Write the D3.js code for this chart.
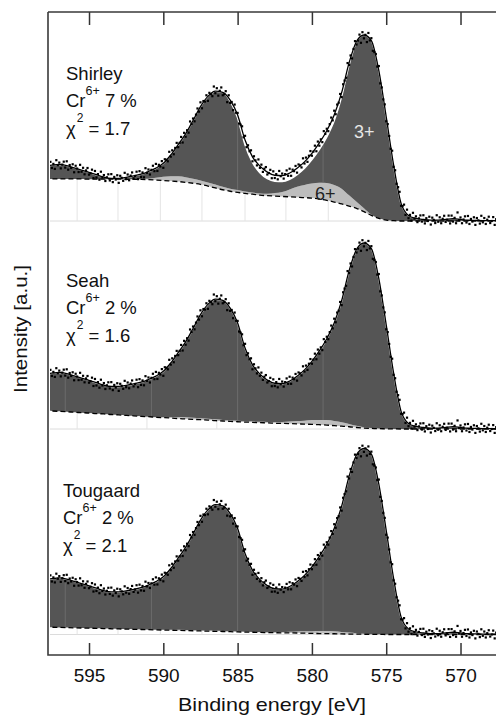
<!DOCTYPE html>
<html>
<head>
<meta charset="utf-8">
<script src="https://cdn.jsdelivr.net/npm/d3@7"></script>
<style>
  body { margin: 0; background: #fff; }
  svg { display: block; font-family: "Liberation Sans", Arial, Helvetica, sans-serif; }
</style>
</head>
<body>
<div id="chart"></div>
<script>
// Cr 2p spectrum fitted with three background models (Shirley / Seah / Tougaard)
const methods = ['Shirley', 'Seah', 'Tougaard'];
const cr6Percent = [7, 2, 2];
const chiSquared = [1.7, 1.6, 2.1];
const energyTicks = [595, 590, 585, 580, 575, 570];

// fitted curves, sampled every 0.5 eV
const fitEnergy = [598.0,597.5,597.0,596.5,596.0,595.5,595.0,594.5,594.0,
  593.5,593.0,592.5,592.0,591.5,591.0,590.5,590.0,589.5,
  589.0,588.5,588.0,587.5,587.0,586.5,586.0,585.5,585.0,
  584.5,584.0,583.5,583.0,582.5,582.0,581.5,581.0,580.5,
  580.0,579.5,579.0,578.5,578.0,577.5,577.0,576.5,576.0,
  575.5,575.0,574.5,574.0,573.5,573.0,572.5,572.0,571.5,
  571.0,570.5,570.0,569.5,569.0,568.5,568.0,567.5];

const envelope = [29.4,30.0,30.4,29.8,28.6,27.4,26.2,24.9,23.6,
  22.9,22.9,23.4,24.2,25.2,26.6,28.4,31.0,35.5,
  41.0,46.8,54.0,61.5,67.0,69.8,69.2,65.0,57.0,
  43.5,34.5,29.5,26.3,24.6,24.4,25.8,28.4,31.8,
  36.4,42.0,48.5,57.0,69.0,85.0,96.5,100.0,97.0,
  81.0,56.0,30.0,9.5,3.0,1.4,0.8,0.5,0.5,
  0.8,1.2,0.8,0.4,0.3,0.2,0.2,0.1];

const shirleySum = [29.4,30.0,30.4,29.8,28.6,27.4,26.2,24.9,23.6,
  22.9,22.9,23.4,24.2,25.2,26.6,28.4,31.0,35.5,
  41.0,46.8,54.0,61.5,67.0,69.8,69.2,64.5,55.5,
  41.0,31.5,26.0,22.8,21.4,21.2,22.4,25.0,28.4,
  33.0,38.5,45.2,54.0,67.0,84.0,96.5,100.0,97.0,
  81.0,56.0,30.0,9.5,3.0,1.4,0.8,0.5,0.5,
  0.8,1.2,0.8,0.4,0.3,0.2,0.2,0.1];

const shirleyBg = [22.6,22.6,22.6,22.6,22.6,22.6,22.5,22.5,22.5,
  22.5,22.5,22.4,22.4,22.4,22.2,22.0,21.8,21.5,
  21.2,20.8,20.3,19.7,18.8,17.8,16.8,16.0,15.4,
  14.8,14.4,13.9,13.6,13.4,13.2,13.0,12.8,12.6,
  12.3,11.8,11.1,10.2,9.2,8.0,6.8,5.0,3.0,
  1.4,0.5,0.15,0,0,0,0,0,0,
  0,0,0,0,0,0,0,0];

const shirleyCr6 = [0,0,0,0,0,0,0,0,0,
  0,0,0,0,0.2,0.5,1.2,2.0,2.6,
  2.8,2.7,2.4,2.1,1.9,1.8,1.6,1.4,1.2,
  1.0,0.9,0.9,1.0,1.6,2.4,4.0,5.6,6.8,
  7.8,8.8,9.3,9.2,8.2,5.8,3.6,1.9,0.5,
  0.1,0,0,0,0,0,0,0,0,
  0,0,0,0,0,0,0,0];

const seahBg = [9.9,9.7,9.5,9.3,9.0,8.8,8.6,8.3,8.1,
  7.8,7.6,7.3,7.1,6.8,6.6,6.3,6.1,5.9,
  5.6,5.4,5.2,5.0,4.8,4.5,4.3,4.1,3.9,
  3.7,3.6,3.4,3.3,3.1,3.0,2.9,2.8,2.6,
  2.5,2.3,2.1,1.8,1.5,1.2,0.8,0.5,0.3,
  0.2,0.1,0.05,0,0,0,0,0,0,
  0,0,0,0,0,0,0,0];

const seahCr6 = [0,0,0,0,0,0,0,0,0,
  0,0,0,0,0,0,0,0.3,0.6,
  0.8,0.9,0.9,0.8,0.7,0.7,0.6,0.6,0.5,
  0.5,0.5,0.5,0.5,0.6,0.8,1.1,1.5,1.9,
  2.3,2.6,2.7,2.5,2.1,1.5,0.9,0.5,0.2,
  0.1,0,0,0,0,0,0,0,0,
  0,0,0,0,0,0,0,0];

const tougaardBg = [4.0,3.9,3.8,3.7,3.6,3.5,3.4,3.3,3.2,
  3.1,3.0,2.9,2.8,2.7,2.6,2.5,2.4,2.3,
  2.2,2.1,2.0,1.9,1.8,1.7,1.6,1.5,1.4,
  1.3,1.2,1.1,1.0,0.95,0.9,0.85,0.8,0.7,
  0.6,0.5,0.45,0.4,0.3,0.25,0.2,0.15,0.1,
  0.05,0,0,0,0,0,0,0,0,
  0,0,0,0,0,0,0,0];

const tougaardCr6 = [0,0,0,0,0,0,0,0,0,
  0,0,0,0,0,0,0,0.1,0.2,
  0.3,0.3,0.3,0.3,0.3,0.3,0.3,0.2,0.2,
  0.2,0.2,0.2,0.2,0.3,0.4,0.6,0.8,1.0,
  1.2,1.4,1.4,1.3,1.1,0.8,0.5,0.3,0.1,
  0.05,0,0,0,0,0,0,0,0,
  0,0,0,0,0,0,0,0];

// measured intensity, 597.6 eV down to 567.6 eV in 0.1 eV steps
const measuredStart = 597.6, measuredStep = 0.1;
const measured = [
  31.8,28.5,30.7,28.0,32.7,30.0,31.4,28.3,30.3,31.9,
  28.7,32.1,27.6,30.1,28.5,30.5,26.2,29.7,28.2,26.3,
  30.2,26.5,28.6,25.1,27.2,28.5,24.9,25.7,27.6,23.1,
  26.9,23.4,25.2,22.2,26.5,23.4,24.7,21.5,23.5,25.1,
  21.8,25.2,20.9,23.7,22.3,24.6,20.5,24.3,23.2,21.6,
  25.9,22.5,25.0,21.9,24.4,26.1,22.9,24.2,26.5,22.5,
  26.8,23.7,26.1,23.5,28.4,25.9,27.7,25.0,27.5,29.7,
  26.8,30.7,26.9,30.2,29.3,32.2,28.6,33.2,32.9,32.1,
  37.2,34.6,38.0,35.9,39.3,42.0,39.7,42.0,45.2,42.2,
  47.4,45.3,48.8,47.5,53.5,52.2,55.1,53.6,57.2,60.5,
  58.8,63.8,60.6,64.5,64.2,67.6,64.6,68.9,68.2,67.1,
  72.3,68.7,71.4,67.4,70.0,71.8,67.6,68.2,69.8,63.9,
  67.6,63.5,64.0,59.6,62.6,58.2,58.1,52.4,51.8,50.9,
  45.0,45.8,39.7,40.7,37.5,38.0,32.1,34.8,32.6,29.9,
  33.1,28.6,30.3,26.4,28.1,29.0,25.0,25.8,27.5,23.0,
  26.7,23.1,25.2,22.4,26.9,24.1,25.5,22.8,25.2,27.2,
  24.3,28.1,24.3,27.6,26.8,29.6,26.0,30.4,29.9,28.8,
  33.7,30.9,34.1,31.8,35.1,37.6,35.1,37.3,40.5,37.5,
  42.7,40.5,43.9,42.4,48.3,46.8,49.6,48.3,52.1,55.6,
  54.1,59.3,57.4,62.6,63.6,68.3,66.6,73.5,75.5,77.0,
  84.9,83.9,89.0,87.4,92.5,96.7,94.9,97.0,100.2,95.8,
  101.5,98.2,100.1,96.2,101.1,97.1,98.3,91.5,90.8,89.8,
  83.0,83.3,74.0,71.8,65.4,62.7,53.6,52.1,45.7,38.8,
  37.8,29.1,27.3,20.0,18.2,15.7,8.2,8.0,8.8,3.3,
  6.1,1.5,3.3,0.2,4.4,1.3,2.5,-0.6,1.4,3.0,
  -0.3,3.1,-1.3,1.5,0.0,2.3,-1.9,1.8,0.6,-1.1,
  3.1,-0.4,2.0,-1.2,1.2,2.8,-0.5,0.7,2.9,-1.3,
  2.9,-0.3,1.7,-1.2,4.6,0.5,1.9,-1.2,0.8,2.5,
  -0.8,2.7,-1.6,1.1,-0.3,2.0,-2.1,1.6,0.3,-1.4,
  2.8,-0.7,1.6,-1.6,0.7,2.3,-1.1,0.0,2.1,-2.1,
  1.0];

// faint polygon seams seen in the original rendering
const whiteSeams = [[595.8, 593.05, 590.2, 587.4, 584.5, 581.75, 578.9], [595.8, 591.1, 586.4], [595.8, 593.05, 590.2, 587.4]];
const darkSeams = [[585.0, 579.25], [596.6, 590.8, 585.0, 579.25], [596.6, 590.8, 585.0, 579.25]];

const panels = [
  { bg: shirleyBg, cr6: shirleyCr6, sum: shirleySum },
  { bg: seahBg, cr6: seahCr6, sum: envelope },
  { bg: tougaardBg, cr6: tougaardCr6, sum: envelope }
];

const width = 496, height = 717;
const frame = { left: 48, top: 12, bottom: 655 };
const panelBase = [221, 429, 634.5];
const panelScale = 186; // px per 100 a.u.
const labelX = [66, 66, 63];
const labelY = [80, 287.3, 497.3];

const svg = d3.select('#chart').append('svg').attr('width', width).attr('height', height);

const x = d3.scaleLinear().domain([597.76, 567]).range([frame.left, frame.left + 30.76 * 14.86]);

const defs = svg.append('defs');
defs.append('clipPath').attr('id', 'plotClip')
  .append('rect').attr('x', 50).attr('y', frame.top).attr('width', 460).attr('height', frame.bottom - frame.top);

const plot = svg.append('g').attr('clip-path', 'url(#plotClip)');
const curve = d3.curveMonotoneX;
const measuredPts = measured.map((v, k) => ({ e: measuredStart - k * measuredStep, v }));

panels.forEach((p, i) => {
  const y = d3.scaleLinear().domain([0, 100]).range([panelBase[i], panelBase[i] - panelScale]);
  const rows = fitEnergy.map((e, k) => ({ e, bg: p.bg[k], cr6: p.cr6[k], sum: p.sum[k], env: envelope[k] }));
  const g = plot.append('g');

  const underBg = d3.area().curve(curve).x(d => x(d.e)).y0(panelBase[i]).y1(d => y(d.bg));
  const lightArea = d3.area().curve(curve).x(d => x(d.e)).y0(d => y(d.bg)).y1(d => y(d.bg + d.cr6));
  const darkArea = d3.area().curve(curve).x(d => x(d.e)).y0(d => y(d.bg + d.cr6)).y1(d => y(d.sum));

  defs.append('clipPath').attr('id', 'under' + i).append('path').attr('d', underBg(rows));
  defs.append('clipPath').attr('id', 'dark' + i).append('path').attr('d', darkArea(rows));

  // light frame under the background
  g.append('line').attr('x1', 50).attr('x2', width).attr('y1', panelBase[i]).attr('y2', panelBase[i])
    .attr('stroke', '#dcdcdc').attr('stroke-width', 1);
  g.append('g').attr('clip-path', `url(#under${i})`)
    .selectAll('line').data(whiteSeams[i]).join('line')
    .attr('x1', d => x(d)).attr('x2', d => x(d))
    .attr('y1', panelBase[i]).attr('y2', panelBase[i] - 60)
    .attr('stroke', '#e4e4e4').attr('stroke-width', 1);

  g.append('path').attr('d', lightArea(rows)).attr('fill', '#bdbdbd');
  g.append('path').attr('d', darkArea(rows)).attr('fill', '#555555');

  g.append('g').attr('clip-path', `url(#dark${i})`)
    .selectAll('line').data(darkSeams[i]).join('line')
    .attr('x1', d => x(d)).attr('x2', d => x(d))
    .attr('y1', panelBase[i]).attr('y2', panelBase[i] - 200)
    .attr('stroke', '#6c6c6c').attr('stroke-width', 1);

  // fit sum outline
  g.append('path').attr('d', d3.line().curve(curve).x(d => x(d.e)).y(d => y(d.sum))(rows))
    .attr('fill', 'none').attr('stroke', '#fff').attr('stroke-width', 1.6);

  // background
  g.append('path').attr('d', d3.line().curve(curve).x(d => x(d.e)).y(d => y(d.bg))(rows))
    .attr('fill', 'none').attr('stroke', '#000').attr('stroke-width', 1.3).attr('stroke-dasharray', '5,3');

  // envelope
  g.append('path').attr('d', d3.line().curve(curve).x(d => x(d.e)).y(d => y(d.env))(rows))
    .attr('fill', 'none').attr('stroke', '#000').attr('stroke-width', 1.3);

  // measured points
  g.append('g').selectAll('rect').data(measuredPts).join('rect')
    .attr('x', d => x(d.e) - 1.1).attr('y', d => y(d.v) - 1.1)
    .attr('width', 2.2).attr('height', 2.2).attr('fill', '#000');

  // panel text
  const t = svg.append('g').attr('fill', '#111').attr('font-size', 18.5);
  t.append('text').attr('x', labelX[i]).attr('y', labelY[i]).text(methods[i]);
  const cr = t.append('text').attr('x', labelX[i]).attr('y', labelY[i] + 27);
  cr.append('tspan').text('Cr');
  cr.append('tspan').attr('font-size', 12.5).attr('dy', -12).text('6+');
  cr.append('tspan').attr('dy', 12).text(` ${cr6Percent[i]} %`);
  const chi = t.append('text').attr('x', labelX[i]).attr('y', labelY[i] + 55);
  chi.append('tspan').text('χ');
  chi.append('tspan').attr('font-size', 12).attr('dy', -13).attr('dx', 1).text('2');
  chi.append('tspan').attr('dy', 13).text(` = ${chiSquared[i]}`);

  if (i === 0) {
    svg.append('text').attr('x', x(577.17)).attr('y', y(44.6)).attr('font-size', 18)
      .attr('fill', '#e6e6e6').text('3+');
    svg.append('text').attr('x', x(579.79)).attr('y', y(11.3)).attr('font-size', 18)
      .attr('fill', '#222').text('6+');
  }
});

// axes
const bottomAxis = svg.append('g').attr('transform', `translate(0,${frame.bottom})`)
  .call(d3.axisBottom(x).tickValues(energyTicks).tickSizeInner(-12).tickSizeOuter(0).tickPadding(13.5));
const topAxis = svg.append('g').attr('transform', `translate(0,${frame.top})`)
  .call(d3.axisTop(x).tickValues(energyTicks).tickSizeInner(-13).tickSizeOuter(0).tickFormat(''));
[bottomAxis, topAxis].forEach(a => {
  a.select('.domain').remove();
  a.selectAll('line').attr('stroke', '#333').attr('stroke-width', 1.5);
});
bottomAxis.selectAll('text').attr('font-size', 19).attr('fill', '#111')
  .attr('font-family', '"Liberation Sans", Arial, sans-serif');

svg.append('path')
  .attr('d', `M${frame.left},${frame.top}H${width}M${frame.left},${frame.top}V${frame.bottom}H${width}`)
  .attr('fill', 'none').attr('stroke', '#3a3a3a').attr('stroke-width', 1.6);

svg.append('text').attr('x', 272).attr('y', 711).attr('text-anchor', 'middle')
  .attr('font-size', 18.5).attr('fill', '#111')
  .attr('textLength', 188).attr('lengthAdjust', 'spacingAndGlyphs')
  .text('Binding energy [eV]');

svg.append('text').attr('transform', 'translate(27,329) rotate(-90)').attr('text-anchor', 'middle')
  .attr('font-size', 18.5).attr('fill', '#111')
  .attr('textLength', 128).attr('lengthAdjust', 'spacingAndGlyphs')
  .text('Intensity [a.u.]');
</script>
</body>
</html>
